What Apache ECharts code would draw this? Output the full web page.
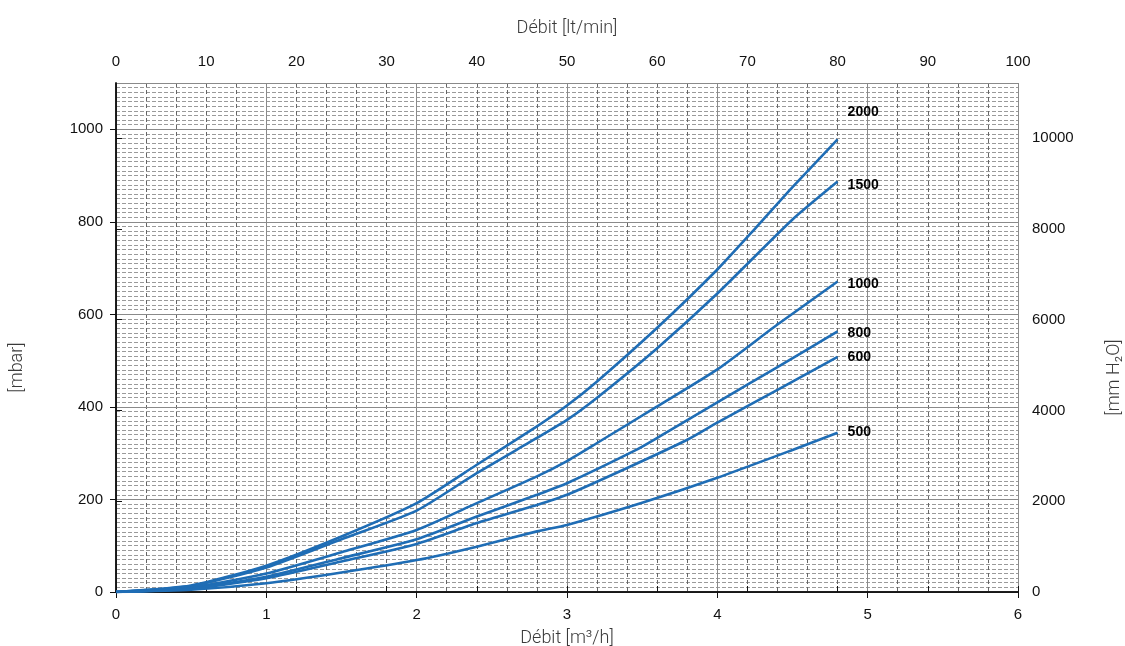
<!DOCTYPE html>
<html>
<head>
<meta charset="utf-8">
<script src="https://cdn.jsdelivr.net/npm/echarts@6/dist/echarts.min.js"></script>
<style>html,body{margin:0;padding:0;background:#fff}#c{width:1125px;height:646px}</style>
</head>
<body>
<div id="c"></div>
<script>
// Flow rate (m3/h) and pressure drop (mbar) per curve
const seriesNames = ['2000', '1500', '1000', '800', '600', '500'];
const x2000 = [0, 0.5, 1, 1.5, 2, 2.4, 2.8, 3.0, 3.2, 3.6, 4.0, 4.25, 4.5, 4.8];
const y2000 = [0, 14, 57, 120, 192, 275, 358, 403, 455, 571, 697, 785, 875, 978];
const x1500 = [0, 0.5, 1, 1.5, 2, 2.4, 2.8, 3.0, 3.2, 3.6, 4.0, 4.5, 4.8];
const y1500 = [0, 13, 53, 114, 176, 257, 333, 372, 420, 527, 645, 805, 887];
const x1000 = [0, 0.5, 1, 1.5, 2, 2.4, 2.8, 3.0, 3.2, 3.6, 4.0, 4.4, 4.8];
const y1000 = [0, 10, 40, 86, 134, 192, 250, 283, 322, 401, 481, 578, 671];
const x800 = [0, 0.5, 1, 1.5, 2, 2.4, 2.8, 3.0, 3.46, 3.6, 4.0, 4.4, 4.8];
const y800 = [0, 8, 33, 73, 114, 163, 210, 235, 307, 333, 410, 486, 563];
const x600 = [0, 0.5, 1, 1.5, 2, 2.4, 2.8, 3.0, 3.4, 3.8, 4.0, 4.4, 4.8];
const y600 = [0, 7, 30, 66, 104, 149, 188, 210, 268, 329, 366, 437, 508];
const x500 = [0, 0.5, 1, 1.5, 2, 2.4, 2.8, 3.0, 3.5, 4.0, 4.5, 4.8];
const y500 = [0, 5, 19, 42, 69, 98, 131, 145, 193, 247, 307, 344];
const labelOffsets = [[0, -27], [0, 4], [0, 3], [0, 2], [0, 0], [0, -1]];

const xs = [x2000, x1500, x1000, x800, x600, x500];
const ys = [y2000, y1500, y1000, y800, y600, y500];

const MBAR_TO_MMH2O = 10.197;
const Y_MAX = 1100;
const NAME_FONT = 'Roboto, "Liberation Sans", Arial, sans-serif';
const TICK_FONT = '"Liberation Sans", Arial, sans-serif';
const nameStyle = {fontFamily: NAME_FONT, fontWeight: 300, fontSize: 18, color: '#3a3a3a'};
const labelStyle = {fontFamily: TICK_FONT, fontSize: 15, color: '#111', formatter: v => String(Math.round(v)), showMaxLabel: false};
const labelStyleX = {fontFamily: TICK_FONT, fontSize: 15, color: '#111', formatter: v => String(Math.round(v * 100) / 100)};
const axisLine = {show: true, lineStyle: {color: '#111', width: 1.5}};
const tick = {show: true, length: 6, lineStyle: {color: '#111'}};

const chart = echarts.init(document.getElementById('c'), null, {renderer: 'canvas'});
chart.setOption({
  animation: false,
  backgroundColor: '#fff',
  grid: {left: 116, right: 107, top: 83, bottom: 54, containLabel: false, outerBoundsMode: 'none'},
  xAxis: [
    {type: 'value', position: 'bottom', min: 0, max: 6, interval: 1, z: 1,
     name: 'Débit [m³/h]', nameLocation: 'middle', nameGap: 37, nameMoveOverlap: false, nameTextStyle: nameStyle,
     axisLine: axisLine, axisTick: tick,
     axisLabel: Object.assign({margin: 15}, labelStyleX),
     splitLine: {show: true, lineStyle: {color: '#8a8a8a', width: 1}}},
    {type: 'value', position: 'top', min: 0, max: 100, interval: 10, z: 1,
     name: 'Débit [lt/min]', nameLocation: 'middle', nameGap: 46, nameMoveOverlap: false, nameTextStyle: nameStyle,
     axisLine: axisLine, axisTick: tick,
     axisLabel: Object.assign({margin: 14}, labelStyleX),
     splitLine: {show: false}},
    {type: 'value', position: 'bottom', min: 0, max: 6, interval: 0.2, z: 0,
     axisLine: {show: false}, axisTick: {show: false}, axisLabel: {show: false},
     splitLine: {show: true, lineStyle: {color: '#666', width: 1, type: [4, 3]}}}
  ],
  yAxis: [
    {type: 'value', position: 'left', min: 0, max: Y_MAX, interval: 200, z: 1,
     name: '[mbar]', nameLocation: 'middle', nameGap: 90, nameRotate: 90, nameMoveOverlap: false,
     nameTextStyle: Object.assign({padding: [0, 60, 0, 0]}, nameStyle),
     axisLine: axisLine, axisTick: tick,
     axisLabel: Object.assign({margin: 13}, labelStyle),
     splitLine: {show: true, lineStyle: {color: '#8a8a8a', width: 1}}},
    {type: 'value', position: 'right', min: 0, max: Y_MAX * MBAR_TO_MMH2O, interval: 2000, z: 1,
     name: '[mm H₂O]', nameLocation: 'middle', nameGap: 87, nameRotate: 90, nameMoveOverlap: false,
     nameTextStyle: Object.assign({padding: [0, 80, 0, 0]}, nameStyle),
     axisLine: axisLine, axisTick: tick,
     axisLabel: Object.assign({margin: 14}, labelStyle),
     splitLine: {show: false}},
    {type: 'value', position: 'left', min: 0, max: Y_MAX, interval: 10, z: 0,
     axisLine: {show: false}, axisTick: {show: false}, axisLabel: {show: false},
     splitLine: {show: true, lineStyle: {color: '#9a9a9a', width: 1, type: [4, 2]}}}
  ],
  series: seriesNames.map((name, i) => ({
    name: name,
    type: 'line',
    xAxisIndex: 0,
    yAxisIndex: 0,
    z: 5,
    smooth: 0.2,
    showSymbol: false,
    data: xs[i].map((x, j) => [x, ys[i][j]]),
    lineStyle: {color: '#1f6db5', width: 2.6},
    itemStyle: {color: '#1f6db5'},
    endLabel: {show: true, formatter: name, distance: 10, offset: labelOffsets[i],
      fontFamily: TICK_FONT, fontWeight: 'bold', fontSize: 14, color: '#000'}
  }))
});
</script>
</body>
</html>
